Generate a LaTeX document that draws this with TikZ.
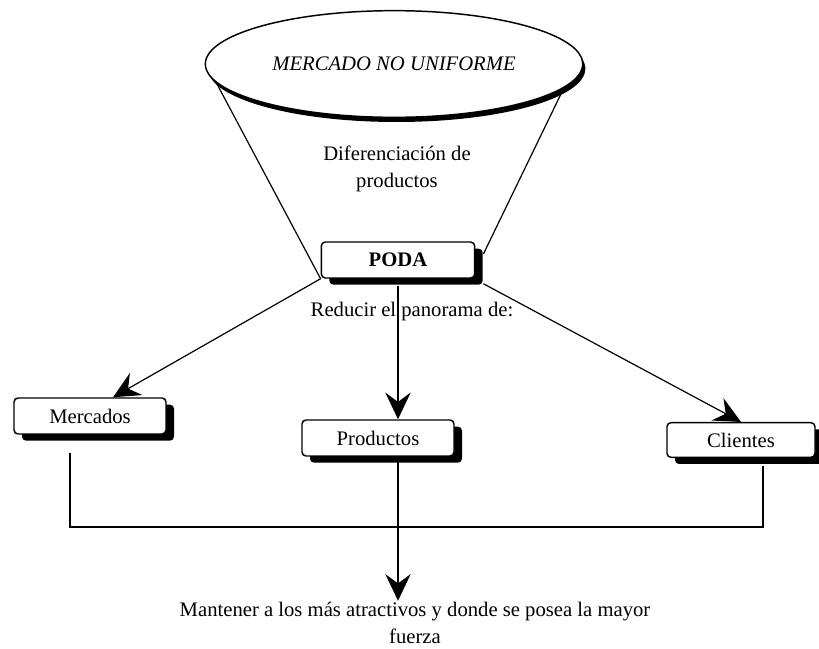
\documentclass[tikz,border=0pt]{standalone}
\usepackage{fontspec}
\setmainfont{Liberation Serif}
\usetikzlibrary{arrows.meta,shapes.geometric,calc,shadows}

\begin{document}
\begin{tikzpicture}[x=0.75pt,y=0.75pt,yscale=-1,xscale=1,
  txt/.style={font=\fontsize{15.5}{20}\selectfont},
  box/.style={txt,draw,line width=1.1pt,rounded corners=3pt,fill=white,minimum width=114pt,minimum height=27pt,inner sep=0pt,
    drop shadow={shadow xshift=6pt,shadow yshift=-5pt,opacity=1,fill=black}},
  arr/.style={line width=0.9pt,-{Stealth[length=20pt,width=19pt,inset=7pt]}},
  con/.style={line width=0.9pt}]
\useasboundingbox (0,0) rectangle (819,649);

%Shape: Ellipse
\node (mercado) [ellipse,draw,line width=1.1pt,fill=white,minimum width=283pt,minimum height=80pt,txt,
  drop shadow={shadow xshift=2pt,shadow yshift=-3.5pt,opacity=1,fill=black}] at (394,64) {\itshape MERCADO NO UNIFORME};
% Text Node
\node (difer) [txt,align=center] at (397,169) {Diferenciación de\\productos};
%Shape: Rectangle
\node (poda) [box,minimum width=115pt] at (398,260) {\textbf{PODA}};
% Text Node
\node (reducir) [txt] at (412,312) {Reducir el panorama de:};

%Shape: Rectangle
\node (mercados) [box] at (90,416) {Mercados};
\node (productos) [box] at (378,438) {Productos};
\node (clientes) [box,minimum width=111pt,minimum height=26pt] at (741,440) {Clientes};

% Text Node
\node (mantener) [txt,align=center,inner sep=1pt] at (415,623) {Mantener a los más atractivos y donde se posea la mayor\\fuerza};

%Straight Lines (funnel)
\draw [con] (mercado.186) -- (poda.south west);
\draw [con] (mercado.352) -- ($(poda.east)+(8,-6)$);

%Straight Lines
\draw [arr] (poda.south west) -- ($(mercados.north)+(23,0)$);
\draw [arr] ($(poda.south)+(0,7)$) -- (poda.south |- productos.north);
\draw [arr] ($(poda.south east)+(8,5)$) -- (clientes.north);

%Straight Lines (bottom)
\coordinate (bus) at (398,527);
\draw [con] ($(mercados.south)+(-20,18)$) |- (bus) -| ($(clientes.south)+(22,8)$);
\draw [arr] (poda.south |- productos.south) -- (poda.south |- mantener.north);

\end{tikzpicture}
\end{document}
